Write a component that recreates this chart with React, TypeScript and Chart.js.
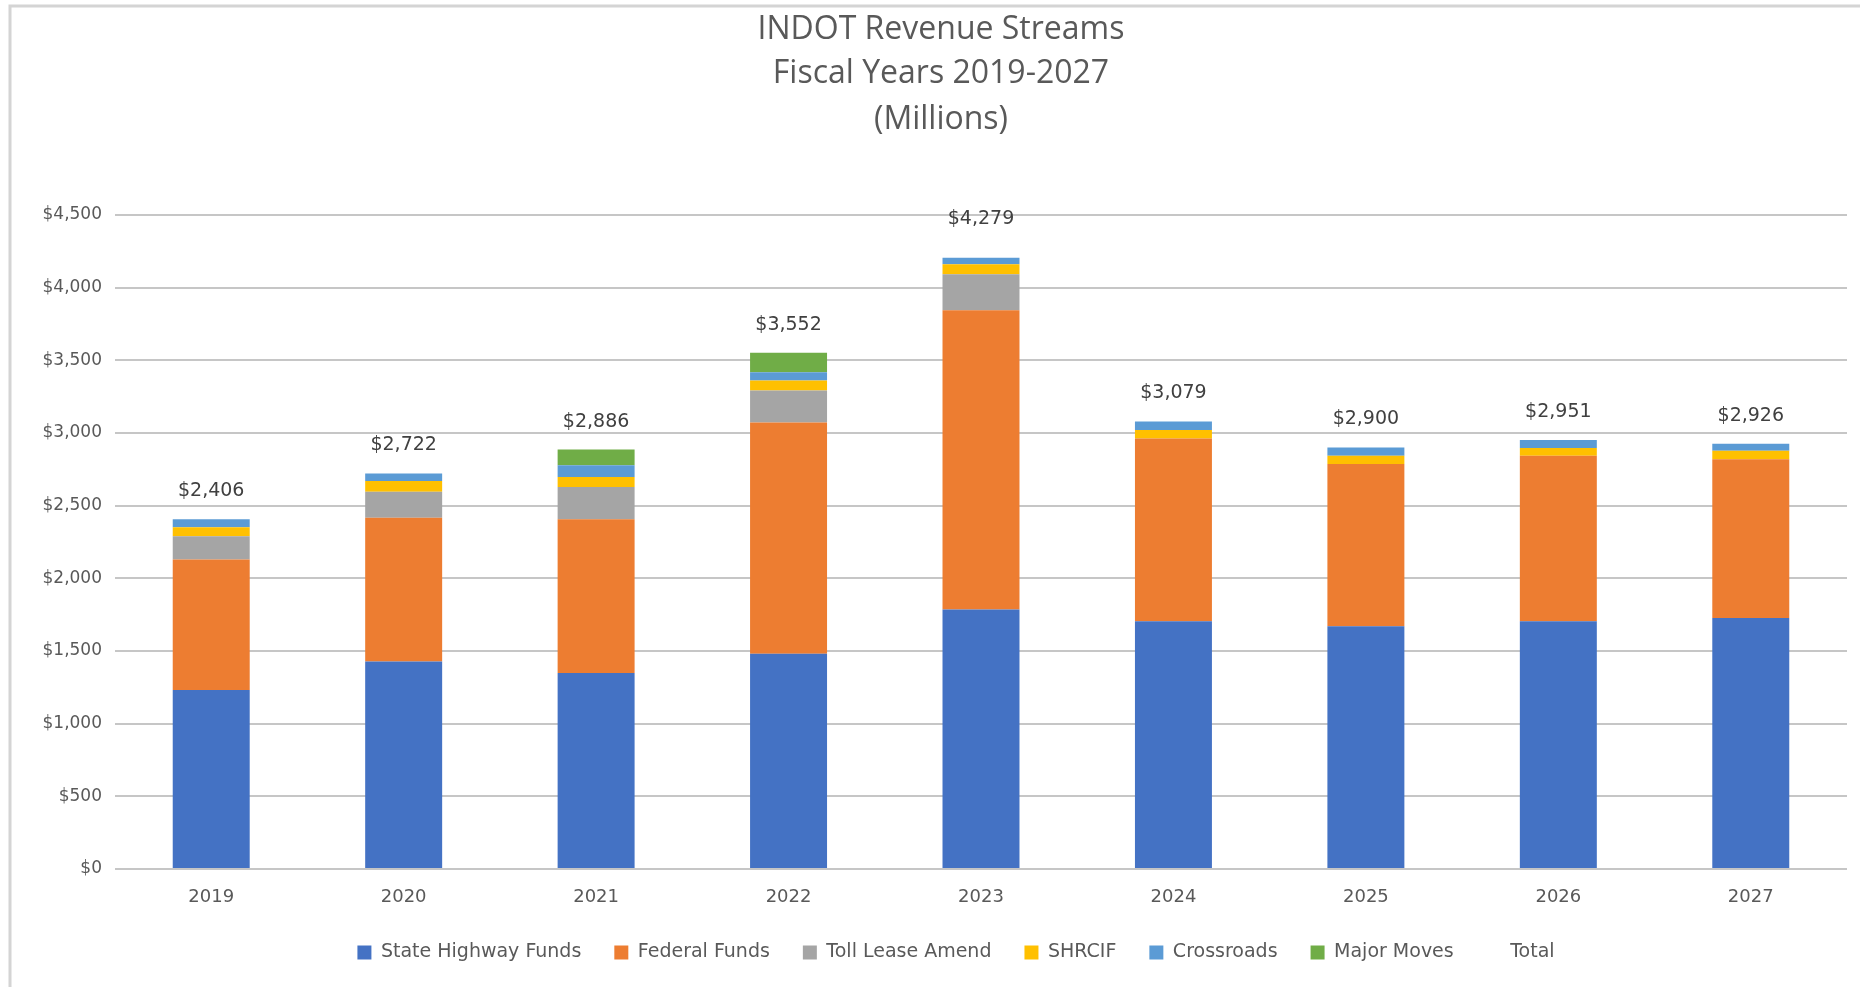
import React, { useEffect, useRef } from 'react';
import { Chart, registerables } from 'chart.js';

Chart.register(...registerables);

const years = ['2019', '2020', '2021', '2022', '2023', '2024', '2025', '2026', '2027'];
const stateHighwayFunds = [1232, 1428, 1348, 1481, 1785, 1705, 1670, 1705, 1727];
const federalFunds = [897, 988, 1058, 1592, 2059, 1258, 1116, 1138, 1093];
const tollLeaseAmend = [161, 179, 223, 219, 249, 0, 0, 0, 0];
const shrcif = [62, 74, 69, 69, 68, 58, 57, 53, 58];
const crossroads = [54, 53, 80, 57, 44, 58, 57, 55, 48];
const majorMoves = [0, 0, 108, 134, 0, 0, 0, 0, 0];
const totals = [2406, 2722, 2886, 3552, 4279, 3079, 2900, 2951, 2926];
const titleLines = ['INDOT Revenue Streams', 'Fiscal Years 2019-2027', '(Millions)'];
const yMin = 0;
const yMax = 4500;
const yStep = 500;

const fmt = (v: number) => '$' + v.toLocaleString('en-US');

const framePlugin = {
  id: 'frame',
  beforeDraw(chart: any) {
    const { ctx, width, height } = chart;
    ctx.save();
    ctx.fillStyle = '#ffffff';
    ctx.fillRect(0, 0, width, height);
    ctx.strokeStyle = '#d4d4d4';
    ctx.lineWidth = 3;
    ctx.beginPath();
    ctx.moveTo(10, height);
    ctx.lineTo(10, 6);
    ctx.lineTo(width, 6);
    ctx.stroke();
    ctx.restore();
  },
};

const legendShiftPlugin = {
  id: 'legendShift',
  afterLayout(chart: any) {
    if (chart.legend) chart.legend.left = 65;
  },
};

const titlePlugin = {
  id: 'customTitle',
  afterDraw(chart: any) {
    const { ctx } = chart;
    const centersY = [30, 74, 120];
    ctx.save();
    ctx.font = '32px "Open Sans"';
    ctx.fillStyle = '#595959';
    ctx.textAlign = 'center';
    ctx.textBaseline = 'middle';
    titleLines.forEach((line, i) => ctx.fillText(line, 941, centersY[i]));
    ctx.restore();
  },
};

const totalLabelsPlugin = {
  id: 'totalLabels',
  afterDatasetsDraw(chart: any) {
    const { ctx } = chart;
    const meta = chart.getDatasetMeta(0);
    const yScale = chart.scales.y;
    ctx.save();
    ctx.font = '19px "DejaVu Sans"';
    ctx.fillStyle = '#404040';
    ctx.textAlign = 'center';
    ctx.textBaseline = 'middle';
    totals.forEach((t, i) => {
      const bar = meta.data[i];
      ctx.fillText(fmt(t), bar.x, yScale.getPixelForValue(t) - 28);
    });
    ctx.restore();
  },
};

export default function App() {
  const canvasRef = useRef<HTMLCanvasElement | null>(null);

  useEffect(() => {
    document.body.style.margin = '0';
    const canvas = canvasRef.current;
    if (!canvas) return;
    const barCommon = {
      type: 'bar' as const,
      stack: 'revenue',
      borderWidth: 0,
      barPercentage: 0.4,
      categoryPercentage: 1,
    };
    const chart = new Chart(canvas, {
      type: 'bar',
      data: {
        labels: years,
        datasets: [
          { ...barCommon, label: 'State Highway Funds', data: stateHighwayFunds, backgroundColor: '#4472C4' },
          { ...barCommon, label: 'Federal Funds', data: federalFunds, backgroundColor: '#ED7D31' },
          { ...barCommon, label: 'Toll Lease Amend', data: tollLeaseAmend, backgroundColor: '#A5A5A5' },
          { ...barCommon, label: 'SHRCIF', data: shrcif, backgroundColor: '#FFC000' },
          { ...barCommon, label: 'Crossroads', data: crossroads, backgroundColor: '#5B9BD5' },
          { ...barCommon, label: 'Major Moves', data: majorMoves, backgroundColor: '#70AD47' },
          {
            type: 'line' as const,
            label: 'Total',
            data: totals,
            stack: 'total',
            showLine: false,
            pointRadius: 0,
            borderWidth: 0,
            backgroundColor: 'rgba(0,0,0,0)',
            borderColor: 'rgba(0,0,0,0)',
          } as any,
        ],
      },
      options: {
        responsive: false,
        animation: false,
        devicePixelRatio: 1,
        layout: { padding: { left: 0, right: 13, top: 215, bottom: 15 } },
        plugins: {
          title: { display: false },
          legend: {
            display: true,
            position: 'bottom',
            labels: {
              color: '#595959',
              font: { family: '"DejaVu Sans"', size: 19 },
              boxWidth: 14,
              boxHeight: 14,
              padding: 33,
            },
          },
          tooltip: { enabled: false },
        },
        scales: {
          x: {
            stacked: true,
            grid: { display: false, drawTicks: false },
            border: { display: false },
            ticks: { color: '#595959', font: { family: '"DejaVu Sans"', size: 18 }, padding: 18 },
            afterFit: (scale: any) => { scale.height = 41; },
          },
          y: {
            stacked: true,
            min: yMin,
            max: yMax,
            grid: { color: '#c6c6c6', lineWidth: 2, drawTicks: false },
            border: { display: false },
            ticks: {
              stepSize: yStep,
              color: '#595959',
              font: { family: '"DejaVu Sans"', size: 17 },
              padding: 13,
              callback: (v: any) => fmt(Number(v)),
            },
            afterFit: (scale: any) => { scale.width = 115; },
          },
        },
      },
      plugins: [framePlugin, legendShiftPlugin, totalLabelsPlugin, titlePlugin],
    });
    return () => chart.destroy();
  }, []);

  return (
    <div style={{ width: 1860, height: 987 }}>
      <canvas ref={canvasRef} width={1860} height={987} style={{ display: 'block', width: 1860, height: 987 }} />
    </div>
  );
}
